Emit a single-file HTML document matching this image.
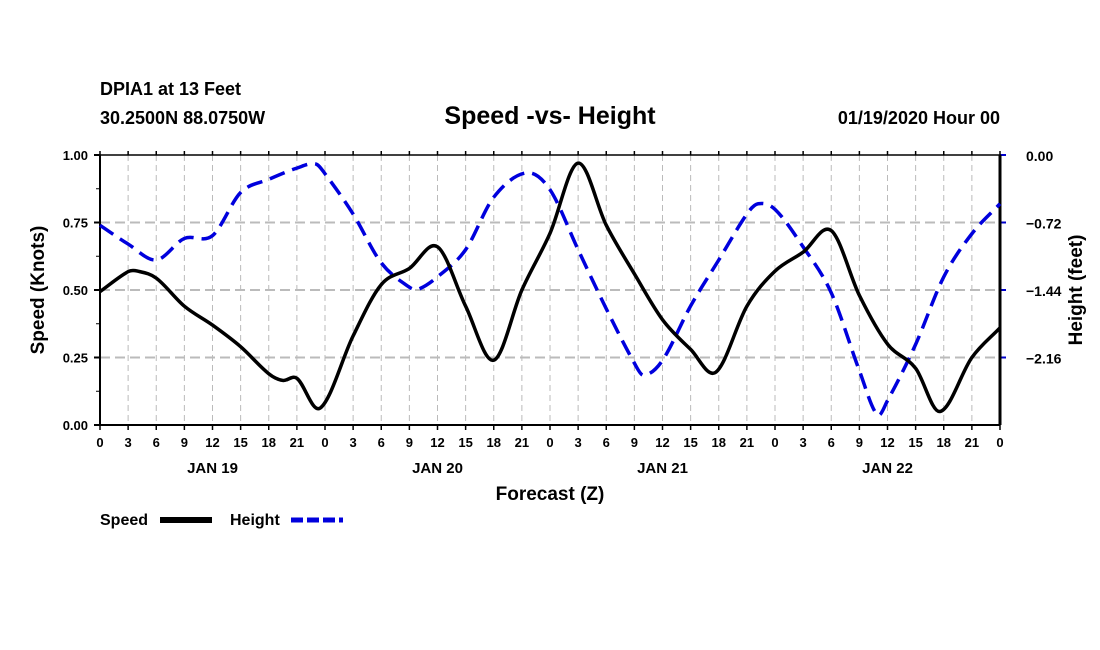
<!DOCTYPE html>
<html><head><meta charset="utf-8"><style>
body{margin:0;background:#fff;}
svg{display:block;font-family:"Liberation Sans",sans-serif;font-weight:bold;}
</style></head><body>
<svg id="c" width="1100" height="650">
<text x="100" y="95" font-size="18">DPIA1 at 13 Feet</text>
<text x="100" y="124" font-size="18">30.2500N 88.0750W</text>
<text x="550" y="124" font-size="25" text-anchor="middle">Speed -vs- Height</text>
<text x="1000" y="124" font-size="18" text-anchor="end">01/19/2020 Hour 00</text>
<g id="grid"></g>
<g id="axes"></g>
<g id="series"></g>
<text x="550" y="500" font-size="19" text-anchor="middle">Forecast (Z)</text>
<text transform="translate(44,290) rotate(-90)" font-size="19" text-anchor="middle">Speed (Knots)</text>
<text transform="translate(1082,290) rotate(-90)" font-size="19" text-anchor="middle">Height (feet)</text>
<g>
<text x="100" y="525" font-size="16">Speed</text>
<line x1="160" y1="520" x2="212" y2="520" stroke="#000" stroke-width="6"/>
<text x="230" y="525" font-size="16">Height</text>
<line x1="291" y1="520" x2="343" y2="520" stroke="#0000dd" stroke-width="5" stroke-dasharray="12,4"/>
</g>
</svg>
<script>
const speedHours=[0,3,4,6,9,12,15,18,19.5,21,23.5,27,30,33,36,39,42,45,48,51,54,57,60,63,65.7,69,72,75,78,81,84,87,89.6,93,96];
const speedVals=[0.494,0.568,0.57,0.544,0.44,0.37,0.29,0.19,0.165,0.173,0.063,0.33,0.52,0.58,0.66,0.44,0.24,0.50,0.71,0.97,0.74,0.56,0.39,0.28,0.196,0.44,0.57,0.64,0.72,0.48,0.30,0.21,0.05,0.25,0.36];
const heightHours=[0,3,6,9,12,15,18,21,23,24,27,30,33,34,36,39,42,45.5,48,51,54,57,58,60,63,66,69,70.2,72,75,78,81,82.9,84,87,90,93,96];
const heightVals=[-0.75,-0.95,-1.12,-0.89,-0.86,-0.40,-0.26,-0.14,-0.095,-0.20,-0.63,-1.15,-1.41,-1.43,-1.30,-1.01,-0.45,-0.19,-0.37,-1.01,-1.64,-2.22,-2.35,-2.19,-1.61,-1.12,-0.63,-0.52,-0.58,-0.98,-1.47,-2.30,-2.77,-2.62,-2.02,-1.30,-0.84,-0.52];
const speedTicks=["0.00","0.25","0.50","0.75","1.00"];
const heightTicks=["0.00","\u22120.72","\u22121.44","\u22122.16"];
const hourLabels=["0","3","6","9","12","15","18","21"];
const dayLabels=["JAN 19","JAN 20","JAN 21","JAN 22"];
const X0=100,X1=1000,Y0=425,Y1=155;
const x=h=>X0+(X1-X0)*h/96;
const ys=v=>Y0-(Y0-Y1)*v;
const yh=v=>Y1+(Y0-Y1)*v/(-2.88);
const NS="http://www.w3.org/2000/svg";
function mk(p,t,a){const e=document.createElementNS(NS,t);for(const k in a)e.setAttribute(k,a[k]);p.appendChild(e);return e;}
const grid=document.getElementById('grid'),axes=document.getElementById('axes'),ser=document.getElementById('series');
for(let h=3;h<96;h+=3){const l=mk(grid,'line',{x1:x(h),x2:x(h),y1:Y1,y2:Y0,stroke:'#bbb','stroke-width':1,'stroke-dasharray':'6,4'});

}
speedTicks.forEach((t,i)=>{const v=i*0.25;const y=ys(v);
if(i>0&&i<4){const l=mk(grid,'line',{x1:X0,x2:X1,y1:y,y2:y,stroke:'#bbb','stroke-width':2,'stroke-dasharray':'10,5'});

}
mk(axes,'line',{x1:X0-6,x2:X0,y1:y,y2:y,stroke:'#000','stroke-width':2});
const tx=mk(axes,'text',{x:X0-12,y:y+5,'font-size':13,'text-anchor':'end'});tx.textContent=t;

});
for(let v=0.125;v<1;v+=0.25){mk(axes,'line',{x1:X0-4,x2:X0,y1:ys(v),y2:ys(v),stroke:'#000','stroke-width':1});}
heightTicks.forEach((t,i)=>{const y=yh(-0.72*i);
mk(axes,'line',{x1:X1,x2:X1+6,y1:y,y2:y,stroke:'#00c','stroke-width':2});
const tx=mk(axes,'text',{x:X1+26,y:y+6,'font-size':14});tx.textContent=t;

});
for(let h=0;h<=96;h+=3){
mk(axes,'line',{x1:x(h),x2:x(h),y1:Y0,y2:Y0+5,stroke:'#000','stroke-width':1.5});
mk(axes,'line',{x1:x(h),x2:x(h),y1:Y1,y2:Y1-4,stroke:'#000','stroke-width':1.5});
const tx=mk(axes,'text',{x:x(h),y:Y0+22,'font-size':13,'text-anchor':'middle'});tx.textContent=hourLabels[(h/3)%8];

}
dayLabels.forEach((d,i)=>{const tx=mk(axes,'text',{x:x(12+24*i),y:Y0+48,'font-size':15,'text-anchor':'middle'});tx.textContent=d;

});
mk(axes,'line',{x1:X0,x2:X1,y1:Y1,y2:Y1,stroke:'#000','stroke-width':1.5});
mk(axes,'line',{x1:X0,x2:X1,y1:Y0,y2:Y0,stroke:'#000','stroke-width':2});
mk(axes,'line',{x1:X0,x2:X0,y1:Y1,y2:Y0,stroke:'#000','stroke-width':2});
mk(axes,'line',{x1:X1,x2:X1,y1:Y1,y2:Y0,stroke:'#000','stroke-width':3});
function smooth(pts){const n=pts.length,m=[];
for(let i=0;i<n;i++){const a=pts[Math.max(0,i-1)],b=pts[Math.min(n-1,i+1)];m.push((b[1]-a[1])/(b[0]-a[0]));}
let d='M'+pts[0][0]+','+pts[0][1];
for(let i=0;i<n-1;i++){const p1=pts[i],p2=pts[i+1],dx=(p2[0]-p1[0])/3;
d+=' C'+(p1[0]+dx)+','+(p1[1]+m[i]*dx)+' '+(p2[0]-dx)+','+(p2[1]-m[i+1]*dx)+' '+p2[0]+','+p2[1];}return d;}
const hp=mk(ser,'path',{d:smooth(heightHours.map((h,i)=>[x(h),yh(heightVals[i])])),fill:'none',stroke:'#0000dd','stroke-width':3.5,'stroke-dasharray':'16,8'});


const sp=mk(ser,'path',{d:smooth(speedHours.map((h,i)=>[x(h),ys(speedVals[i])])),fill:'none',stroke:'#000','stroke-width':3.5});


</script>
</body></html>
